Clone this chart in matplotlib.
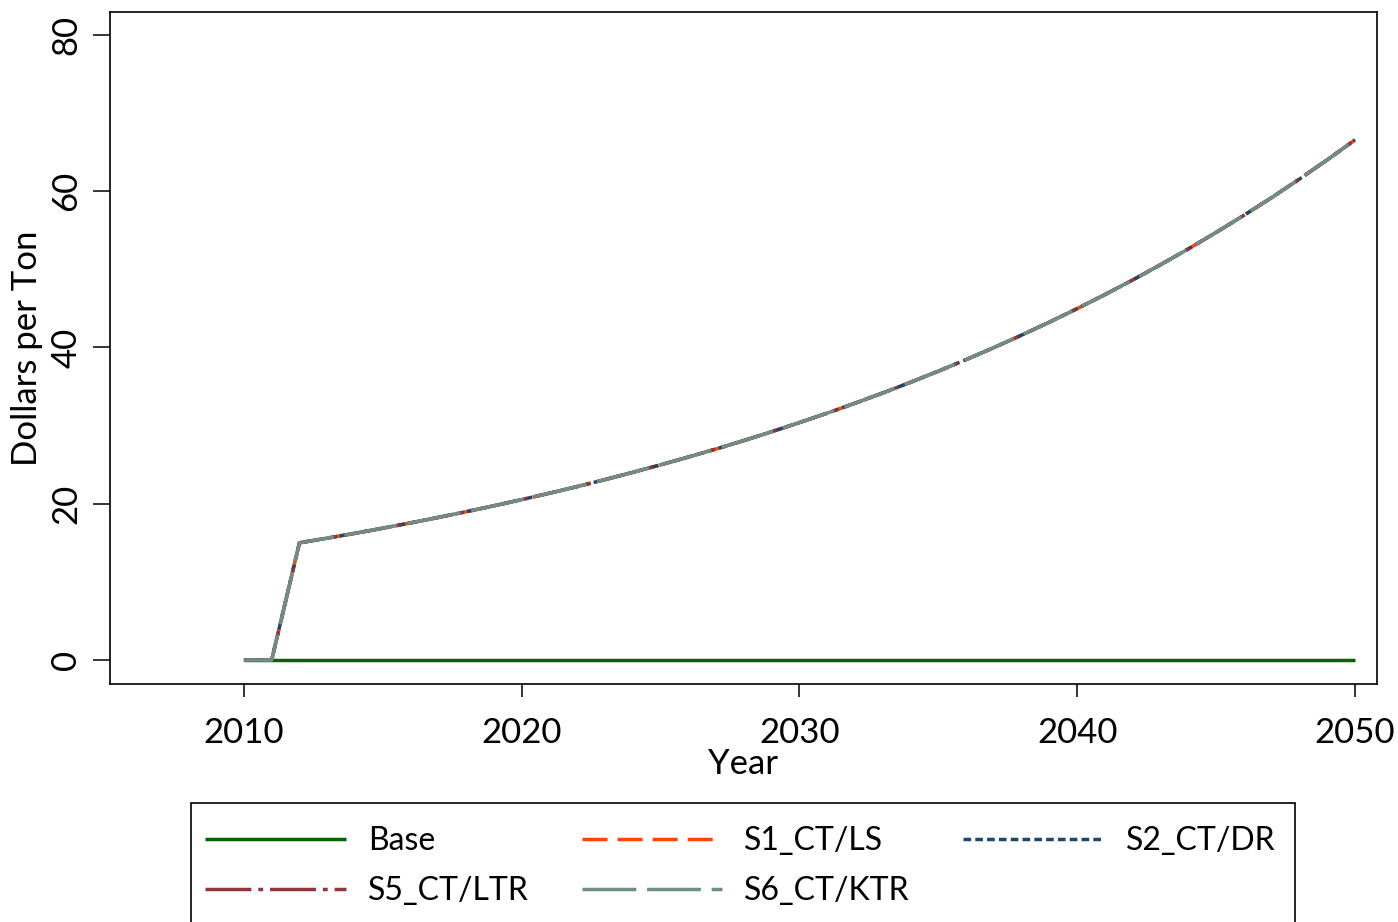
import matplotlib.pyplot as plt
from matplotlib.patches import Rectangle

# carbon tax path, dollars per ton
years = list(range(2010, 2051))
base = [0.0] * len(years)
tax = [0.0, 0.0,
       15.00, 15.60, 16.22, 16.87, 17.55, 18.25, 18.98, 19.74, 20.53, 21.35,
       22.20, 23.09, 24.02, 24.98, 25.98, 27.01, 28.09, 29.22, 30.39, 31.60,
       32.87, 34.18, 35.55, 36.97, 38.45, 39.99, 41.59, 43.25, 44.98, 46.78,
       48.65, 50.60, 52.62, 54.73, 56.92, 59.19, 61.56, 64.02, 66.58]
s1 = tax
s2 = tax
s5 = tax
s6 = tax

labels = ["Base", "S1_CT/LS", "S2_CT/DR", "S5_CT/LTR", "S6_CT/KTR"]
colors = ["#006400", "#ff4500", "#1a476f", "#90353b", "#6e8e84"]
dashes = [None, (7.2, 2.9), (2.2, 1.2), (13.2, 2.0, 1.4, 2.0), (15.5, 3.1)]

xticks = [2010, 2020, 2030, 2040, 2050]
yticks = [0, 20, 40, 60, 80]

font = "Lato"
lw = 2.5

fig = plt.figure(figsize=(13.98, 9.22), dpi=100)
ax = fig.add_axes([110 / 1398, 1 - 684 / 922, 1267 / 1398, 672 / 922])

lines = []
for ys, lab, c, d in zip([base, s1, s2, s5, s6], labels, colors, dashes):
    ln, = ax.plot(years, ys, color=c, lw=lw, label=lab, solid_capstyle="butt")
    if d is not None:
        ln.set_dashes(d)
        ln.set_dash_capstyle("butt")
    lines.append(ln)

ax.set_xlim(2005.18, 2050.79)
ax.set_ylim(-3.07, 82.94)
ax.set_xticks(xticks)
ax.set_yticks(yticks)
ax.set_xticklabels([str(v) for v in xticks], fontfamily=font, fontsize=25)
ax.set_yticklabels([str(v) for v in yticks], fontfamily=font, fontsize=25,
                   rotation=90, va="center")
ax.tick_params(axis="y", length=12, width=1.1, pad=8)
ax.tick_params(axis="x", length=9, width=1.1, pad=15)
for sp in ax.spines.values():
    sp.set_linewidth(1.2)

ax.set_xlabel("Year", fontfamily=font, fontsize=25, labelpad=-1)
ax.set_ylabel("Dollars per Ton", fontfamily=font, fontsize=25, labelpad=5)

# legend box below the plot
fig.patches.append(Rectangle((191 / 1398, -0.05), 1104 / 1398, 0.05 + 1 - 803 / 922,
                             transform=fig.transFigure, fill=False,
                             edgecolor="black", lw=1.2))
order = [0, 3, 1, 4, 2]
fig.legend([lines[i] for i in order], [labels[i] for i in order],
           loc="upper left", bbox_to_anchor=(205 / 1398, 1 - 826 / 922),
           ncol=3, frameon=False, borderpad=0, borderaxespad=0,
           handlelength=4.4, handletextpad=0.7, columnspacing=1.65,
           labelspacing=0.64,
           prop={"family": font, "size": 23})

fig.savefig("out.png", dpi=100)
